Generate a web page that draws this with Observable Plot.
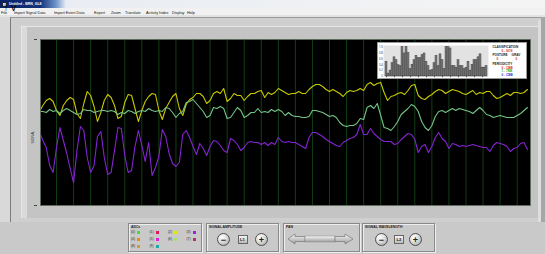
<!DOCTYPE html>
<html><head><meta charset="utf-8">
<script src="https://cdn.jsdelivr.net/npm/d3@7"></script>
<script src="https://cdn.jsdelivr.net/npm/@observablehq/plot@0.6"></script>
<style>
html,body{margin:0;padding:0;background:#c9c9c9;}
#app{position:relative;width:545px;height:254px;overflow:hidden;background:#c9c9c9;font-family:"Liberation Sans",Arial,sans-serif;}
.a{position:absolute;}
.box{position:absolute;border:1px solid #8a8a8a;box-shadow:1px 1px 0 #eeeeee, inset 1px 1px 0 #eeeeee;}
.rb{position:absolute;width:13px;height:13px;border-radius:50%;background:radial-gradient(circle at 35% 30%,#ffffff 0,#e2e2e2 40%,#9a9a9a 100%);border:0.7px solid #505050;box-sizing:border-box;text-align:center;font-size:9px;line-height:12px;font-weight:bold;color:#222;}
.sq{position:absolute;width:10px;height:9px;background:linear-gradient(#f6f6f6,#bcbcbc);border:0.6px solid #666;box-sizing:border-box;}
.sw{position:absolute;width:3px;height:3px;}
#chrome{position:absolute;left:0;top:0;z-index:5;pointer-events:none;font-family:"Liberation Sans",Arial,sans-serif;}
</style></head><body><div id="app">
<!-- title bar -->
<div class="a" style="left:0;top:0;width:545px;height:8px;background:linear-gradient(90deg,#0a246a 0,#12307a 40px,#6f95c8 56px,#e9edf3 66px,#f4f4f4 545px);"></div>
<div class="a" style="left:1.5px;top:1.5px;width:5px;height:5px;background:linear-gradient(135deg,#e8e8e8,#7aa0d8);border:0.5px solid #223;box-sizing:border-box;"></div>
<!-- menu -->
<div class="a" style="left:0;top:8px;width:545px;height:6.5px;background:#f1f1f1;"></div>
<div class="a" style="left:0;top:14.5px;width:545px;height:2.5px;background:#e2e2e2;"></div>
<!-- main frame -->
<div class="a" style="left:0;top:17px;width:10px;height:205px;background:#d9d9d9;"></div>
<div class="a" style="left:10px;top:17px;width:531px;height:205px;background:#cfcfcf;border-left:1px solid #7c7c7c;border-top:1px solid #9a9a9a;box-sizing:border-box;"></div>
<div class="a" style="left:21px;top:26px;width:517px;height:192px;background:#c4c4c4;border-top:1px solid #e6e6e6;border-left:1px solid #e6e6e6;box-sizing:border-box;"></div>
<div class="a" style="left:22px;top:27px;width:5px;height:191px;background:#dadada;"></div>
<div class="a" style="left:538px;top:20px;width:3px;height:202px;background:#dedede;"></div>
<div class="a" style="left:541px;top:17px;width:4px;height:205px;background:#a6a6a6;"></div>
<div id="main" class="a" style="left:0;top:0;z-index:2;"></div>
<!-- inset -->
<div class="a" id="inset" style="left:376.5px;top:42.3px;width:150px;height:37px;background:#ffffff;border:0.6px solid #9a9a9a;box-sizing:border-box;z-index:3;">
<div id="bars" class="a" style="left:0;top:0;"></div>
</div>
<!-- bottom controls -->
<div class="box" style="left:128px;top:223px;width:72px;height:27px;"></div>
<div id="adcs"></div>
<div class="box" style="left:206px;top:223px;width:71px;height:27px;"></div>
<div class="rb" style="left:217px;top:232.5px;">&minus;</div>
<div class="sq" style="left:237.5px;top:234.5px;"></div>
<div class="rb" style="left:255px;top:232.5px;">+</div>
<div class="box" style="left:282.5px;top:223px;width:75px;height:27px;"></div>
<svg class="a" style="left:287px;top:233px;" width="68" height="12" viewBox="0 0 68 12">
<defs><linearGradient id="g1" x1="0" y1="0" x2="0" y2="1"><stop offset="0" stop-color="#f8f8f8"/><stop offset="1" stop-color="#9c9c9c"/></linearGradient></defs>
<polygon points="1,6 8,1 8,3.5 18,3.5 18,8.5 8,8.5 8,11" fill="url(#g1)" stroke="#6a6a6a" stroke-width="0.6"/>
<rect x="18" y="3" width="30" height="6" fill="url(#g1)" stroke="#8a8a8a" stroke-width="0.5"/>
<polygon points="48,3.5 58,3.5 58,1 66,6 58,11 58,8.5 48,8.5" fill="url(#g1)" stroke="#6a6a6a" stroke-width="0.6"/>
</svg>
<div class="box" style="left:362px;top:223px;width:71px;height:27px;"></div>
<div class="rb" style="left:375px;top:232.5px;">&minus;</div>
<div class="sq" style="left:394px;top:234.5px;"></div>
<div class="rb" style="left:409px;top:232.5px;">+</div>
<!-- all small interface texts -->
<svg id="chrome" width="545" height="254">
<text x="9" y="4.6" font-size="3.5" font-weight="bold" fill="#fff">Untitled - BRN_GL8</text>
<text y="13.8" font-size="3.8" fill="#111"><tspan x="1">File</tspan><tspan x="14">Import Signal Data</tspan><tspan x="54">Import Event Data</tspan><tspan x="94">Export</tspan><tspan x="111">Zoom</tspan><tspan x="125">Translate</tspan><tspan x="146">Activity Index</tspan><tspan x="172">Display</tspan><tspan x="187">Help</tspan></text>
<text transform="translate(34.3,137) rotate(-90)" text-anchor="middle" font-size="3.6" fill="#333">SIGNAL</text>
<g font-size="3.4" font-weight="bold" fill="#222">
<text x="131" y="228">ADCs</text>
<text x="209" y="228">SIGNAL AMPLITUDE</text>
<text x="286" y="228">PAN</text>
<text x="365" y="228">SIGNAL WAVELENGTH</text>
</g>
<g font-size="4.2" font-weight="bold" fill="#222" text-anchor="middle">
<text x="242.5" y="240.5">L1</text>
<text x="399" y="240.5">L2</text>
</g>
<g id="adcText" font-size="3.3" fill="#222"></g>
<g font-size="3.1" font-weight="bold" transform="translate(376.5,42.3)">
<text x="116" y="5.8" fill="#222">CLASSIFICATION</text>
<text x="125" y="9.8" fill="#e02020">0 - SOS</text>
<text x="116" y="13.8" fill="#222">POSTURE</text>
<text x="135" y="13.8" fill="#222">GRAV</text>
<text x="120" y="17.8" fill="#e02020">0</text>
<text x="139" y="17.8" fill="#e02020">0</text>
<text x="116" y="22.3" fill="#222">PERIODICITY</text>
<text x="125" y="26.3" fill="#e02020">0 - CBB</text>
<text x="125" y="30.1" fill="#20b020">1 - 7NB</text>
<text x="125" y="33.8" fill="#2030e0">0 - CBB</text>
</g>
</svg>
</div>
<script>
// ---- main signal data (amplitude units), 5 samples per grid second ----
const sampleRate = 5;
const gridSeconds = d3.range(1, 29);
const yellow = [94,100,105,107,104,95,90,100,105,108, 106,92,87,102,114,110,99,84,93,105, 111,108,100,87,89,103,111,110,97,84, 95,104,109,112,111,95,86,97,103,109, 112,97,90,101,106,108,112,112,109,102, 105,112,114,112,117,104,107,112,110,110, 105,109,112,112,114,115,108,113,111,113, 117,115,113,111,112,112,114,112,112,116, 119,121,121,119,116,114,116,114,112,109, 113,115,114,115,117,115,121,123,120,122, 123,113,105,109,110,112,113,111,115,120, 121,110,107,106,109,111,114,116,115,112, 114,116,115,114,112,111,113,115,111,113, 112,114,114,110,107,108,110,112,110,113, 113,112,113,116];
const green = [94,94,93,96,94,95,92,95,97,95, 93,91,92,96,95,95,93,94,95,95, 94,95,94,91,93,92,95,94,92,94, 95,94,97,95,94,95,94,98,97,93, 88,92,94,103,104,106,102,98,94,88, 90,98,97,99,97,87,88,93,98,95, 88,90,93,93,97,93,94,93,96,94, 96,94,90,93,90,89,89,88,88,89, 95,95,94,93,91,89,90,88,83,80, 79,80,80,82,87,86,98,100,97,102, 90,78,77,75,79,84,91,94,97,101, 99,94,84,78,75,80,89,94,95,93, 95,97,95,97,96,95,94,92,95,98, 95,91,90,88,89,90,89,88,88,88, 90,92,95,98];
const purple = [74,65,58,40,33,58,78,65,52,37, 23,55,79,75,48,33,40,69,74,48, 31,33,55,78,77,50,33,35,59,75, 60,44,63,30,38,49,76,69,52,42, 39,43,71,75,68,59,51,62,57,50, 59,65,64,60,55,53,67,65,61,55, 58,63,64,63,63,61,63,60,63,61, 68,64,63,64,63,63,61,59,57,68, 73,73,71,69,66,64,62,60,59,63, 65,67,68,71,81,71,71,77,72,69, 66,64,64,64,61,62,66,69,72,71, 66,53,59,61,53,59,68,73,67,64, 57,62,61,59,60,59,60,61,60,59, 58,58,54,60,63,62,61,59,54,57, 58,62,63,56];
const yMin = 0, yMax = 166;
const xStart = 0.062, xEnd = 28.78;

// ---- inset activity bars ----
const activity = [0.5,0.1,0.2,0.45,0.65,0.55,0.38,0.35,1.0,0.78,1.0,0.8,0.25,0.4,0.55,0.7,0.62,0.62,0.72,0.78,0.5,0.35,0.2,0.22,0.45,0.7,0.35,0.75,0.55,0.25,1.0,1.0,0.95,0.35,0.35,0.3,0.55,0.35,0.35,0.25,0.3,0.5,0.2,0.4,0.55,0.55,0.65,0.75,0.3,0.3,0.35];
const activityTicks = [0, 0.2, 0.4, 0.6, 0.8, 1.0];

// ---- ADC legend ----
const adcLabels = ["(0)","(1)","(2)","(3)","(4)","(5)","(6)","(7)","(8)","(9)"];
const adcColors = ["#3ee03e","#e0185a","#e6e600","#9a22e6","#f08a00","#e020e0","#a8e070","#c2287a","#c8a040","#20a8a8"];

const sig = (arr) => arr.map((v, i) => ({t: i / sampleRate, v}));

const main = Plot.plot({
  width: 545, height: 254,
  marginLeft: 40, marginRight: 15, marginTop: 39, marginBottom: 49,
  style: {background: "transparent", overflow: "visible"},
  x: {domain: [xStart, xEnd], axis: null},
  y: {domain: [yMin, yMax], axis: null},
  marks: [
    Plot.frame({fill: "#000000"}),
    Plot.ruleX(gridSeconds, {stroke: "#123f12", strokeWidth: 1}),
    Plot.line(sig(yellow), {x: "t", y: "v", stroke: "#c8c800", strokeWidth: 1.1, clip: true}),
    Plot.line(sig(green), {x: "t", y: "v", stroke: "#74c486", strokeWidth: 1.1, clip: true}),
    Plot.line(sig(purple), {x: "t", y: "v", stroke: "#8424d2", strokeWidth: 1.1, clip: true}),
    Plot.frame({stroke: "#5e6e5e", strokeWidth: 0.8}),
    Plot.axisY({ticks: [yMin, yMax], tickSize: 3, tickFormat: () => "", dx: -3, stroke: "#444"})
  ]
});
document.getElementById("main").appendChild(main);

const bars = Plot.plot({
  width: 111, height: 37,
  marginLeft: 5, marginRight: 1, marginTop: 2, marginBottom: 4,
  style: {background: "transparent", overflow: "visible"},
  x: {type: "band", domain: d3.range(activity.length), padding: 0.2, axis: null},
  y: {domain: [0, 1.05], axis: null},
  marks: [
    Plot.frame({fill: "#e2e2e2"}),
    Plot.barY(activity, {x: (d, i) => i, y: d => d, fill: "#7c7c7c", stroke: "#2e2e2e", strokeWidth: 0.4}),
    Plot.axisY({ticks: activityTicks, tickSize: 0, tickPadding: 0.8, fontSize: 2.6, fill: "#333",
      tickFormat: d => d === 0 ? "0" : d.toFixed(1)}),
    Plot.axisX({ticks: d3.range(0, activity.length, 4), tickSize: 1.2, tickFormat: () => "", stroke: "#555"})
  ]
});
document.getElementById("bars").appendChild(bars);

// ADC legend entries
const adcBox = document.getElementById("adcs");
const adcText = document.getElementById("adcText");
const colX = [131, 149.5, 168, 186.5], rowY = [230.5, 237.3, 244];
adcLabels.forEach((lab, i) => {
  const r = Math.floor(i / 4), c = i % 4;
  const t = document.createElementNS("http://www.w3.org/2000/svg", "text");
  t.setAttribute("x", colX[c]); t.setAttribute("y", rowY[r] + 2.6); t.textContent = lab;
  adcText.appendChild(t);
  const s = document.createElement("div");
  s.className = "sw"; s.style.left = (colX[c] + 6) + "px"; s.style.top = (rowY[r] + 0.6) + "px"; s.style.background = adcColors[i];
  adcBox.appendChild(s);
});
</script>
</body></html>
